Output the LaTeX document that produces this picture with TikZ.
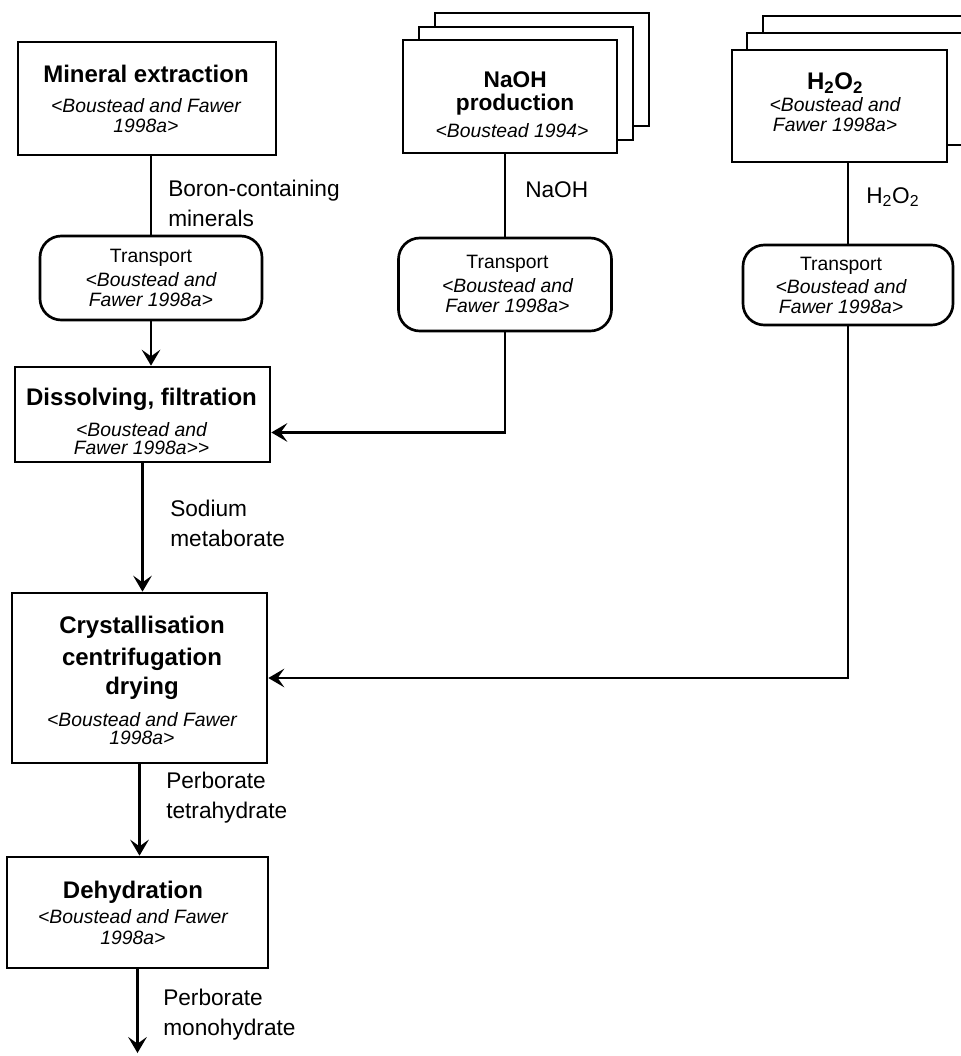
\documentclass[tikz,border=0pt]{standalone}
\usepackage{fontspec}
\setmainfont{Liberation Sans}
\usetikzlibrary{arrows.meta,calc}
% bold heading inside a process box
\newcommand{\boxtitle}[1][18]{\fontsize{#1}{0}\selectfont\bfseries}
\begin{document}
\begin{tikzpicture}[x=0.75pt,y=-0.75pt,
  sz/.style n args={2}{minimum width={#1*0.75pt}, minimum height={#2*0.75pt}},
  procbox/.style={draw, line width=2pt, fill=white, inner sep=0pt},
  transport/.style={procbox, rounded corners=16pt},
  boxtext/.style={align=center, inner sep=0pt,
    font={\fontsize{14.5}{0}\selectfont\lineskiplimit=-1000pt}},
  conn/.style={line width=2pt},
  flow/.style={conn, -{Stealth[length=12pt,width=14pt,inset=5pt]}},
  flowlabel/.style={anchor=west, align=left, inner sep=0pt,
    font=\fontsize{17}{22.5}\selectfont}]

\path[fill=white] (0,0) rectangle (960,1056);
\useasboundingbox (0,0) rectangle (960,1056);

% main process chain
\node[procbox, sz={258}{113}] (mine) at (147,98.5) {};
\node[transport, sz={222}{84}] (tr1) at (151,278) {};
\node[procbox, sz={255}{95}] (diss) at (142.5,414.5) {};
\node[procbox, sz={255}{170}] (cryst) at (139.5,678) {};
\node[procbox, sz={261}{111}] (dehyd) at (137.5,912.5) {};

% NaOH supply (stacked datasets)
\node[procbox, sz={214}{113}] (naohC) at (542,69.5) {};
\node[procbox, sz={214}{113}] (naohB) at (526,83.5) {};
\node[procbox, sz={214}{113}] (naoh) at (510,96.5) {};
\node[transport, sz={213}{93}] (tr2) at (505,284.5) {};

% H2O2 supply (stacked datasets)
\node[procbox, sz={215}{112}] (peroxC) at (870.5,72) {};
\node[procbox, sz={215}{112}] (peroxB) at (854.5,89) {};
\node[procbox, sz={215}{112}] (perox) at (839.5,106) {};
\node[transport, sz={210}{80}] (tr3) at (848,285) {};

% box texts
\node[boxtext] (mine-t) at (146,99)
  {{\boxtitle Mineral extraction}\\[22.5pt]{\itshape <Boustead and Fawer}\\[15pt]{\itshape 1998a>}};
\node[boxtext] (tr1-t) at (151,277.5)
  {Transport\\[18pt]{\itshape <Boustead and}\\[15pt]{\itshape Fawer 1998a>}};
\node[boxtext] (diss-t) at (141.5,421)
  {{\boxtitle Dissolving, filtration}\\[23.25pt]{\itshape <Boustead and}\\[13.5pt]{\itshape Fawer 1998a>{}>}};
\node[boxtext] (cryst-t) at (142,680)
  {{\boxtitle Crystallisation}\\[24pt]{\boxtitle centrifugation}\\[21.75pt]{\boxtitle drying}\\[24pt]{\itshape <Boustead and Fawer}\\[13.5pt]{\itshape 1998a>}};
\node[boxtext] (dehyd-t) at (133,912.5)
  {{\boxtitle Dehydration}\\[18.75pt]{\itshape <Boustead and Fawer}\\[15.75pt]{\itshape 1998a>}};
\node[boxtext] (naoh-t) at (512,105)
  {{\boxtitle[17] NaOH}\\[17.25pt]{\boxtitle[17] production}\\[20.25pt]{\itshape <Boustead 1994>}};
\node[boxtext] (tr2-t) at (507.5,283.5)
  {Transport\\[18pt]{\itshape <Boustead and}\\[15pt]{\itshape Fawer 1998a>}};
\node[boxtext] (perox-t) at (835,102)
  {{\boxtitle H\textsubscript{2}O\textsubscript{2}}\\[16.5pt]{\itshape <Boustead and}\\[15pt]{\itshape Fawer 1998a>}};
\node[boxtext] (tr3-t) at (841,285)
  {Transport\\[17.25pt]{\itshape <Boustead and}\\[15pt]{\itshape Fawer 1998a>}};

% flow labels
\node[flowlabel] (lab-boron) at (168,203) {Boron-containing\\minerals};
\node[flowlabel] (lab-naoh) at (525,190) {NaOH};
\node[flowlabel] (lab-perox) at (866,197) {H\textsubscript{2}O\textsubscript{2}};
\node[flowlabel] (lab-meta) at (170,523) {Sodium\\metaborate};
\node[flowlabel] (lab-tetra) at (166,798) {Perborate\\tetrahydrate};
\node[flowlabel] (lab-mono) at (163,1015) {Perborate\\monohydrate};

% connectors
\coordinate (naohin) at ($(diss.north east)!0.684!(diss.south east)$);
\coordinate (dehydout) at (142,1053);

\draw[conn] (tr1.north |- mine.south) -- (tr1.north);
\draw[flow] (tr1.south) -- (tr1.south |- diss.north);
\draw[flow] (diss.south) -- (diss.south |- cryst.north);
\draw[flow] (cryst.south) -- (cryst.south |- dehyd.north);
\draw[flow] (dehyd.south) -- (dehyd.south |- dehydout);

\draw[conn] (tr2.north |- naoh.south) -- (tr2.north);
\draw[flow] (tr2.south) |- (naohin);

\draw[conn] (tr3.north |- perox.south) -- (tr3.north);
\draw[flow] (tr3.south) |- (cryst.east);
\end{tikzpicture}
\end{document}
